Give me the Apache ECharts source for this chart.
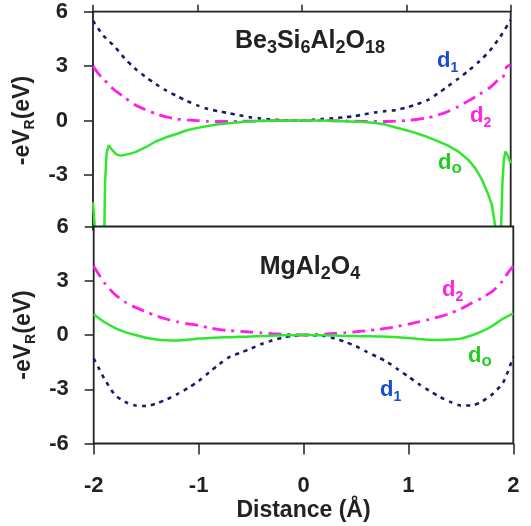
<!DOCTYPE html>
<html><head><meta charset="utf-8">
<script src="https://cdn.jsdelivr.net/npm/echarts@6/dist/echarts.min.js"></script>
<style>html,body{margin:0;padding:0;background:#fff}#c{width:531px;height:526px}</style>
</head><body><div id="c"></div>
<script>
const FONT = '"Liberation Sans", Arial, Helvetica, sans-serif';
const xTicks = [-2, -1, 0, 1, 2];
const yTicks = [-6, -3, 0, 3, 6];
const topYTicks = [-3, 0, 3, 6];

// ---- Top panel: Be3Si6Al2O18 ----
const topD1X = [-2,-1.9,-1.8,-1.7,-1.6,-1.5,-1.4,-1.3,-1.2,-1.1,-1,-0.9,-0.8,-0.7,-0.6,-0.5,-0.4,-0.3,-0.2,-0.1,0,0.1,0.2,0.3,0.4,0.5,0.6,0.7,0.8,0.9,1,1.1,1.2,1.3,1.4,1.5,1.6,1.7,1.8,1.9,2];
const topD1  = [5.5,4.68,4.12,3.45,2.88,2.42,2.02,1.66,1.36,1.08,0.84,0.64,0.52,0.41,0.3,0.19,0.12,0.06,0.03,0.01,0,0.04,0.09,0.13,0.18,0.24,0.35,0.45,0.52,0.58,0.72,0.9,1.12,1.48,1.9,2.32,2.77,3.27,3.85,4.62,5.55];

const topD2X = [-2,-1.95,-1.9,-1.8,-1.7,-1.6,-1.5,-1.4,-1.3,-1.2,-1.1,-1,-0.9,-0.8,-0.7,-0.6,-0.4,-0.2,0,0.2,0.4,0.6,0.8,0.9,1,1.1,1.2,1.3,1.4,1.5,1.6,1.7,1.8,1.9,1.93,1.96,2];
const topD2  = [3.0,2.6,2.3,1.71,1.29,0.87,0.61,0.38,0.2,0.09,0.04,0,-0.04,-0.05,-0.05,-0.04,-0.02,0,0,0,-0.02,-0.04,-0.05,-0.03,0,0.06,0.15,0.3,0.5,0.78,1.1,1.45,1.82,2.35,2.45,2.95,3.07];

const topD0X = [-2,-1.99,-1.97,-1.9,-1.89,-1.885,-1.87,-1.85,-1.82,-1.78,-1.74,-1.7,-1.6,-1.5,-1.4,-1.3,-1.2,-1.1,-1,-0.9,-0.8,-0.7,-0.6,-0.5,-0.4,-0.2,0,0.2,0.4,0.6,0.7,0.8,0.9,1,1.1,1.2,1.3,1.4,1.5,1.6,1.66,1.72,1.78,1.82,1.85,1.87,1.9,1.91,1.92,1.935,1.95,1.97,2];
const topD0  = [-4.5,-5.3,-7,-7,-5.5,-3.5,-1.8,-1.35,-1.6,-1.85,-1.93,-1.9,-1.75,-1.48,-1.15,-0.92,-0.74,-0.53,-0.4,-0.3,-0.2,-0.14,-0.09,-0.05,-0.02,0,0,0,-0.03,-0.08,-0.13,-0.22,-0.38,-0.53,-0.7,-0.9,-1.13,-1.38,-1.71,-2.2,-2.62,-3.2,-4.0,-4.64,-5.75,-7,-7,-5.5,-3.5,-2.1,-1.71,-1.9,-2.35];

// ---- Bottom panel: MgAl2O4 ----
const botX  = [-2,-1.95,-1.9,-1.8,-1.7,-1.6,-1.5,-1.4,-1.3,-1.2,-1.1,-1,-0.9,-0.8,-0.7,-0.6,-0.5,-0.4,-0.3,-0.2,-0.1,0,0.1,0.2,0.3,0.4,0.5,0.6,0.7,0.8,0.9,1,1.1,1.2,1.3,1.4,1.5,1.6,1.7,1.8,1.9,1.95,2];
const botD1 = [-1.3,-1.85,-2.4,-3.29,-3.7,-3.9,-3.93,-3.78,-3.55,-3.26,-2.93,-2.55,-2.07,-1.6,-1.2,-0.98,-0.75,-0.5,-0.3,-0.15,-0.05,0,-0.02,-0.06,-0.2,-0.39,-0.62,-0.92,-1.2,-1.5,-1.9,-2.3,-2.72,-3.08,-3.42,-3.7,-3.9,-3.9,-3.68,-3.28,-2.65,-2.0,-1.2];
const botD2 = [3.8,3.35,2.9,2.25,1.82,1.52,1.28,1.05,0.87,0.72,0.62,0.53,0.4,0.3,0.24,0.2,0.16,0.12,0.08,0.05,0.02,0,0.02,0.05,0.09,0.13,0.18,0.24,0.3,0.38,0.48,0.6,0.72,0.86,1.02,1.2,1.45,1.75,2.05,2.41,3.0,3.45,3.8];
const botD0 = [1.15,0.92,0.72,0.4,0.16,0.0,-0.15,-0.25,-0.29,-0.3,-0.26,-0.2,-0.17,-0.14,-0.12,-0.1,-0.08,-0.06,-0.04,-0.02,-0.01,0,-0.01,-0.02,-0.03,-0.05,-0.06,-0.07,-0.08,-0.1,-0.13,-0.17,-0.22,-0.26,-0.27,-0.25,-0.2,-0.03,0.2,0.5,0.9,1.05,1.2];

function pairs(xs, ys) { return xs.map(function (x, i) { return [x, ys[i]]; }); }

const AX = '#222';
const C_D1 = '#1b1b6e', C_D2 = '#ff1fea', C_D0 = '#2ee82e';
const LBL_D1 = '#1a4cd0', LBL_D2 = '#ff22e0', LBL_D0 = '#1fcc1f';
const tickLabel = {fontFamily: FONT, fontWeight: 'bold', fontSize: 22, color: '#222'};
const yName = '{a|-eV}{r|R}{a|(eV)}';
const yNameStyle = {
  color: '#222',
  rich: {
    a: {fontFamily: FONT, fontWeight: 'bold', fontSize: 23, color: '#222', padding: [0, 0, 3, 0], verticalAlign: 'bottom'},
    r: {fontFamily: FONT, fontWeight: 'bold', fontSize: 14, color: '#222', verticalAlign: 'bottom'}
  }
};

function lineSeries(name, xi, data, color, width, type, z) {
  return {
    name: name, type: 'line', xAxisIndex: xi, yAxisIndex: xi, data: data,
    showSymbol: false, smooth: 0.25, z: z, clip: true,
    lineStyle: {color: color, width: width, type: type}
  };
}
function subLabel(main, sub, x, y, color, subSize) {
  return {
    type: 'text', x: x, y: y, z: 100,
    style: {
      text: '{m|' + main + '}{s|' + sub + '}', align: 'left', verticalAlign: 'top', fill: color,
      rich: {
        m: {fontFamily: FONT, fontWeight: 'bold', fontSize: 22, fill: color, padding: [0, 0, 3, 0], verticalAlign: 'bottom'},
        s: {fontFamily: FONT, fontWeight: 'bold', fontSize: subSize, fill: color, verticalAlign: 'bottom'}
      }
    }
  };
}
const titleRich = {
  m: {fontFamily: FONT, fontWeight: 'bold', fontSize: 25, fill: '#222', padding: [0, 0, 4, 0], verticalAlign: 'bottom'},
  s: {fontFamily: FONT, fontWeight: 'bold', fontSize: 18, fill: '#222', verticalAlign: 'bottom'}
};

const chart = echarts.init(document.getElementById('c'), null, {renderer: 'canvas'});
chart.setOption({
  animation: false,
  backgroundColor: '#fff',
  grid: [
    {left: 93, top: 11.7, width: 417.7, height: 217.8, show: true, borderColor: AX, borderWidth: 1.8, backgroundColor: 'transparent', z: 0},
    {left: 93.7, top: 226.5, width: 419.6, height: 217, show: true, borderColor: AX, borderWidth: 1.8, backgroundColor: '#fff', z: 3}
  ],
  xAxis: [
    {gridIndex: 0, type: 'value', position: 'top', min: xTicks[0], max: xTicks[xTicks.length - 1], interval: 1,
     axisLine: {show: false, onZero: false}, axisTick: {show: true, inside: false, length: 7, lineStyle: {color: AX, width: 1.5}},
     axisLabel: {show: false}, splitLine: {show: false}},
    {gridIndex: 1, type: 'value', position: 'bottom', min: xTicks[0], max: xTicks[xTicks.length - 1], interval: 1, z: 4,
     axisLine: {show: false, onZero: false}, axisTick: {show: true, inside: false, length: 11, lineStyle: {color: AX, width: 1.5}},
     axisLabel: Object.assign({margin: 31}, tickLabel), splitLine: {show: false},
     name: 'Distance (Å)', nameLocation: 'middle', nameGap: 56,
     nameTextStyle: {fontFamily: FONT, fontWeight: 'bold', fontSize: 23, color: '#222'}}
  ],
  yAxis: [
    {gridIndex: 0, type: 'value', position: 'left', min: yTicks[0], max: yTicks[yTicks.length - 1], interval: 3,
     axisLine: {show: false, onZero: false},
     axisTick: {show: true, inside: false, length: 9, lineStyle: {color: AX, width: 1.5}, customValues: topYTicks},
     axisLabel: Object.assign({margin: 25, customValues: topYTicks}, tickLabel),
     splitLine: {show: false},
     name: yName, nameLocation: 'middle', nameGap: 50, nameTextStyle: yNameStyle},
    {gridIndex: 1, type: 'value', position: 'left', min: yTicks[0], max: yTicks[yTicks.length - 1], interval: 3, z: 4,
     axisLine: {show: false, onZero: false},
     axisTick: {show: true, inside: false, length: 9, lineStyle: {color: AX, width: 1.5}},
     axisLabel: Object.assign({margin: 25}, tickLabel),
     splitLine: {show: false},
     name: yName, nameLocation: 'middle', nameGap: 50, nameTextStyle: yNameStyle}
  ],
  series: [
    lineSeries('d1 top', 0, pairs(topD1X, topD1), C_D1, 2.6, [4, 5], 2),
    lineSeries('d2 top', 0, pairs(topD2X, topD2), C_D2, 2.8, [13, 6, 3, 6], 2),
    Object.assign(lineSeries('d0 top', 0, pairs(topD0X, topD0), C_D0, 2.5, 'solid', 2), {smooth: false}),
    lineSeries('d1 bottom', 1, pairs(botX, botD1), C_D1, 2.6, [4, 5], 10),
    lineSeries('d2 bottom', 1, pairs(botX, botD2), C_D2, 2.8, [13, 6, 3, 6], 10),
    lineSeries('d0 bottom', 1, pairs(botX, botD0), C_D0, 2.5, 'solid', 10)
  ],
  graphic: [
    {type: 'text', x: 310, y: 28.5, z: 100, style: {text: '{m|Be}{s|3}{m|Si}{s|6}{m|Al}{s|2}{m|O}{s|18}', align: 'center', verticalAlign: 'top', fill: '#222', rich: titleRich}},
    {type: 'text', x: 310, y: 254.5, z: 100, style: {text: '{m|MgAl}{s|2}{m|O}{s|4}', align: 'center', verticalAlign: 'top', fill: '#222', rich: titleRich}},
    subLabel('d', '1', 437, 50, LBL_D1, 14),
    subLabel('d', '2', 470, 105, LBL_D2, 14),
    subLabel('d', 'o', 438, 152, LBL_D0, 17),
    subLabel('d', '2', 442, 279, LBL_D2, 14),
    subLabel('d', 'o', 468, 345, LBL_D0, 17),
    subLabel('d', '1', 380, 379, LBL_D1, 14)
  ]
});
</script>
</body></html>
